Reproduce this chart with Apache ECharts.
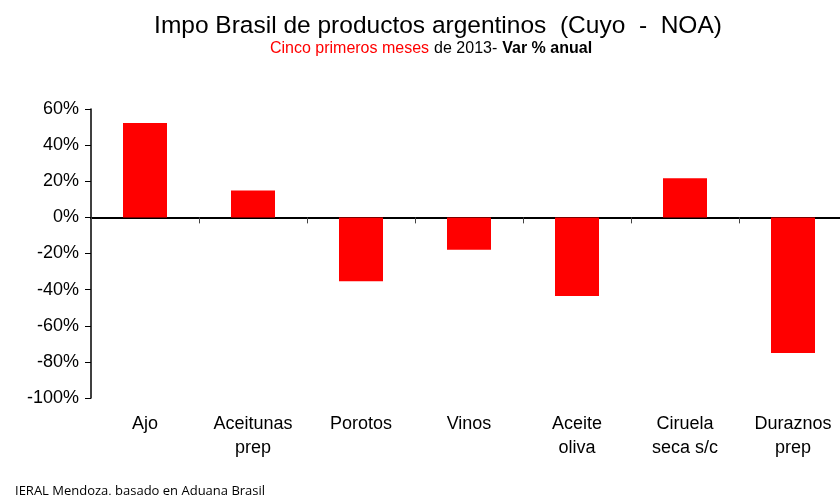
<!DOCTYPE html>
<html>
<head>
<meta charset="utf-8">
<script src="https://cdn.jsdelivr.net/npm/echarts@6/dist/echarts.min.js"></script>
<style>
    html, body { margin: 0; padding: 0; background: #fff; overflow: hidden; }
    /* el área del gráfico sigue un poco más allá del borde derecho */
    #main { width: 847px; height: 495px; }
</style>
</head>
<body>
<div id="main"></div>
<script>
    // productos y variación % anual (cinco primeros meses 2013)
    const categories = ['Ajo', 'Aceitunas\nprep', 'Porotos', 'Vinos', 'Aceite\noliva', 'Ciruela\nseca s/c', 'Duraznos\nprep'];
    const varAnual = [52.3, 14.9, -35.4, -17.9, -43.5, 21.6, -75.1];

    const chart = echarts.init(document.getElementById('main'));

    const option = {
        animation: false,
        textStyle: { fontFamily: 'Liberation Sans, Arial, sans-serif' },
        title: [
            {
                text: 'Impo Brasil de productos argentinos  (Cuyo  -  NOA)',
                left: 433,
                top: 9,
                textAlign: 'center',
                textStyle: { fontSize: 24.5, fontWeight: 'normal', color: '#000' }
            },
            {
                text: '{r|Cinco primeros meses} {n|de 2013-} {b|Var % anual}',
                left: 426,
                top: 35,
                textAlign: 'center',
                textStyle: {
                    fontWeight: 'normal',
                    rich: {
                        r: { fontSize: 16, color: '#ff0000', fontWeight: 'normal' },
                        n: { fontSize: 16, color: '#000', fontWeight: 'normal' },
                        b: { fontSize: 16, color: '#000', fontWeight: 'bold' }
                    }
                }
            },
            {
                text: 'IERAL Mendoza, basado en Aduana Brasil',
                left: 10,
                top: 480,
                textStyle: { fontSize: 13, fontWeight: 'normal', color: '#000', fontFamily: 'Open Sans' }
            }
        ],
        grid: { left: 91, top: 109, right: 0, bottom: 97 },
        xAxis: [
            {
                type: 'category',
                data: categories,
                position: 'bottom',
                axisLine: { show: false, onZero: false },
                axisTick: { show: false },
                axisLabel: { fontSize: 18, color: '#000', margin: 14, lineHeight: 24, interval: 0 }
            },
            {
                type: 'category',
                data: categories,
                position: 'bottom',
                axisLine: { show: true, onZero: true, lineStyle: { color: '#000', width: 2 } },
                axisTick: { show: true, length: 6, lineStyle: { color: '#444', width: 1 } },
                axisLabel: { show: false }
            }
        ],
        yAxis: {
            type: 'value',
            min: -100,
            max: 60,
            interval: 20,
            axisLine: { show: true, lineStyle: { color: '#000', width: 1.5 } },
            axisTick: { show: true, length: 6, lineStyle: { color: '#000' } },
            splitLine: { show: false },
            axisLabel: {
                fontSize: 18,
                color: '#000',
                margin: 12,
                formatter: value => value + '%'
            }
        },
        series: [
            {
                type: 'bar',
                xAxisIndex: 0,
                data: varAnual,
                barWidth: 44,
                itemStyle: { color: '#ff0000' }
            }
        ]
    };

    chart.setOption(option);
</script>
</body>
</html>
